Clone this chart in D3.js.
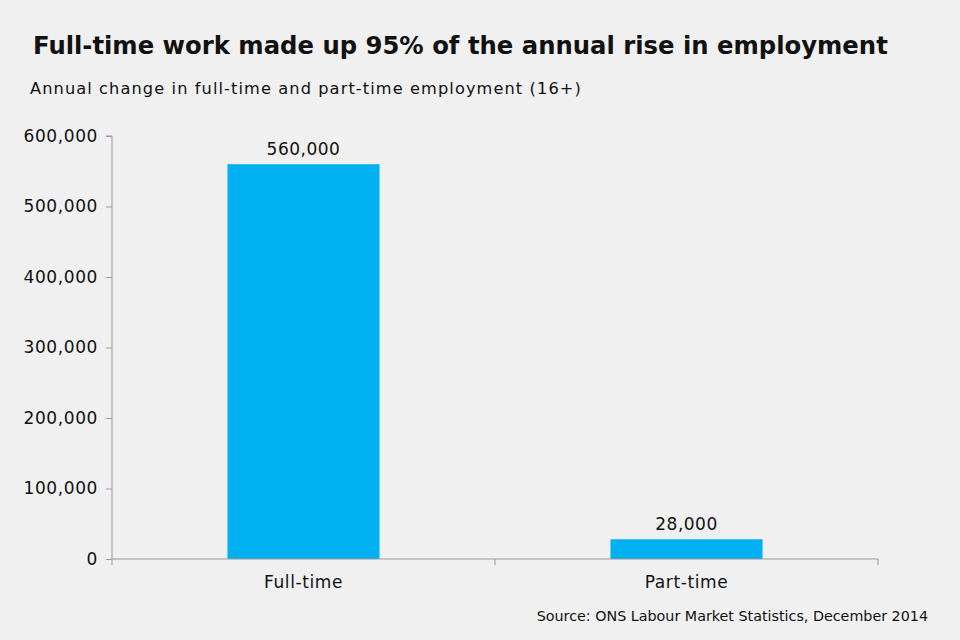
<!DOCTYPE html>
<html>
<head>
<meta charset="utf-8">
<script src="https://cdn.jsdelivr.net/npm/d3@7"></script>
<style>
  html, body { margin: 0; padding: 0; background: #f0f0f0; }
  svg { display: block; font-family: "DejaVu Sans", Verdana, sans-serif; }
</style>
</head>
<body>
<svg id="chart" width="960" height="640"></svg>
<script>
const titleText = "Full-time work made up 95% of the annual rise in employment";
const subtitleText = "Annual change in full-time and part-time employment (16+)";
const sourceText = "Source: ONS Labour Market Statistics, December 2014";
const categories = ["Full-time", "Part-time"];
const values = [560000, 28000];
const yTicks = [0, 100000, 200000, 300000, 400000, 500000, 600000];

const svg = d3.select("#chart");
const W = 960, H = 640;
const margin = { left: 112, right: 82, top: 136, bottom: 81 };

svg.append("rect").attr("width", W).attr("height", H).attr("fill", "#f0f0f0");

const x = d3.scaleBand()
  .domain(categories)
  .range([margin.left, W - margin.right])
  .paddingInner(0.603)
  .paddingOuter(0.3015);

const y = d3.scaleLinear()
  .domain([0, 600000])
  .range([H - margin.bottom, margin.top]);

const fmt = d3.format(",");

// title
svg.append("text")
  .attr("x", 33).attr("y", 54)
  .attr("font-size", 24.3).attr("font-weight", "bold")
  .attr("fill", "#111")
  .text(titleText);

svg.append("text")
  .attr("x", 30).attr("y", 94)
  .attr("font-size", 16.2).attr("letter-spacing", 1.1)
  .attr("fill", "#111")
  .text(subtitleText);

// y axis
const yAxis = d3.axisLeft(y).tickValues(yTicks).tickFormat(fmt).tickSize(6).tickPadding(8);
const gy = svg.append("g").attr("transform", `translate(${margin.left},0)`).call(yAxis);
gy.select(".domain").attr("stroke", "#999").attr("d", `M-6,${y(600000)}H0V${y(0)}`);
gy.selectAll(".tick line").attr("stroke", "#999");
gy.selectAll(".tick text").attr("font-size", 17).attr("letter-spacing", 0.6).attr("fill", "#111")
  .attr("font-family", "DejaVu Sans, sans-serif");

// bars
svg.append("g").selectAll("rect")
  .data(categories)
  .join("rect")
  .attr("x", d => x(d))
  .attr("width", x.bandwidth())
  .attr("y", (d, i) => y(values[i]))
  .attr("height", (d, i) => y(0) - y(values[i]))
  .attr("fill", "#00b0f0");

// value labels
svg.append("g").selectAll("text")
  .data(categories)
  .join("text")
  .attr("x", d => x(d) + x.bandwidth() / 2)
  .attr("y", (d, i) => y(values[i]) - 9)
  .attr("text-anchor", "middle")
  .attr("font-size", 17).attr("letter-spacing", 0.5).attr("fill", "#111")
  .text((d, i) => fmt(values[i]));

// x axis
const gx = svg.append("g").attr("transform", `translate(0,${y(0)})`);
gx.append("line").attr("x1", margin.left).attr("x2", W - margin.right)
  .attr("y1", 0).attr("y2", 0).attr("stroke", "#999");
const step = x.step();
const boundaries = [margin.left, margin.left + step, W - margin.right];
gx.selectAll("line.tk").data(boundaries).join("line").attr("class", "tk")
  .attr("x1", d => d).attr("x2", d => d).attr("y1", 0).attr("y2", 6).attr("stroke", "#999");
gx.selectAll("text").data(categories).join("text")
  .attr("x", d => x(d) + x.bandwidth() / 2)
  .attr("y", 29)
  .attr("text-anchor", "middle")
  .attr("font-size", 17).attr("letter-spacing", 0.6).attr("fill", "#111")
  .text(d => d);

svg.append("text")
  .attr("x", 928).attr("y", 621)
  .attr("text-anchor", "end")
  .attr("font-size", 14.3)
  .attr("fill", "#111")
  .text(sourceText);
</script>
</body>
</html>
